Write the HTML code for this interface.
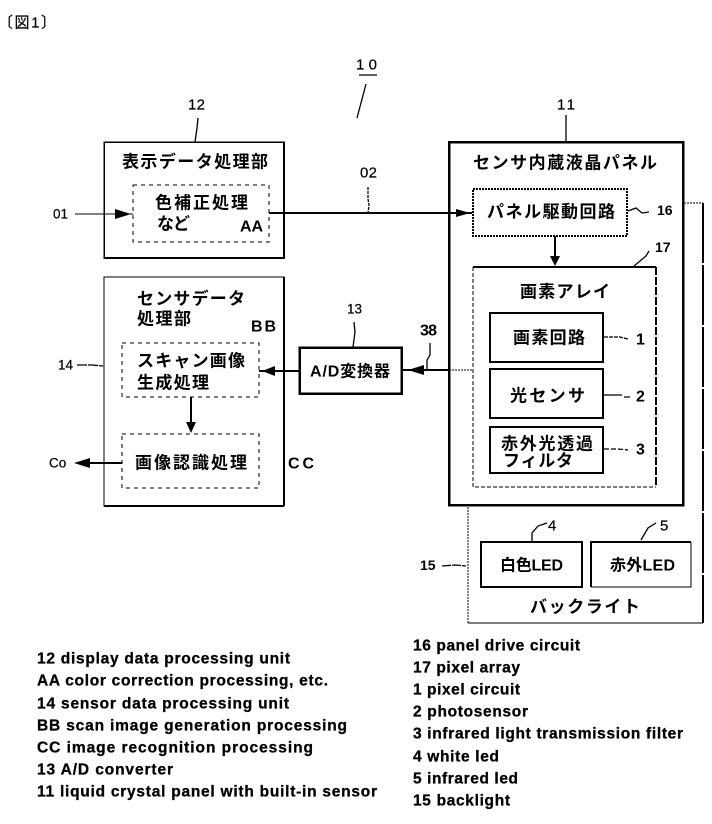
<!DOCTYPE html>
<html lang="ja"><head><meta charset="utf-8"><title>図1</title>
<style>
html,body{margin:0;padding:0;background:#fff}
svg{display:block}
text{font-family:"Liberation Sans","Noto Sans CJK JP",sans-serif;fill:#000;dominant-baseline:central}
.j{font-size:17px;font-weight:700}
.k{font-size:16px;font-weight:700}
.n{font-size:15px;stroke:#000;stroke-width:.2}
.s{font-size:13.5px;stroke:#000;stroke-width:.2}
.b{font-size:16px;font-weight:700}
.t{font-size:14px;font-weight:700}
.e{font-size:15.5px;font-weight:700;stroke:#000;stroke-width:.3}
</style></head><body>
<svg width="712" height="824" viewBox="0 0 712 824" xmlns="http://www.w3.org/2000/svg">
<g fill="none" stroke="#000" shape-rendering="crispEdges">
<!-- main boxes -->
<rect x="104" y="142" width="180" height="116" stroke-width="1.5"/>
<path d="M284 142V258M104 258H284" stroke-width="2"/>
<rect x="133" y="185" width="136" height="57" stroke-width="1.4" stroke-dasharray="4 4"/>
<rect x="104" y="277" width="180" height="229" stroke-width="1.2"/>
<path d="M284 277V506M104 506H284" stroke-width="2"/>
<rect x="122" y="343" width="137" height="54" stroke-width="1.3" stroke-dasharray="4 4"/>
<rect x="122" y="434" width="137" height="54" stroke-width="1.3" stroke-dasharray="4 4"/>
<rect x="299.500" y="347.500" width="102" height="46" stroke-width="2.500"/>
<rect x="449" y="142" width="234" height="363" stroke-width="2.500"/>
<rect x="473" y="189" width="154" height="47" stroke-width="1.600" stroke-dasharray="2 1"/>
<path d="M473 267H656" stroke-width="1.800"/>
<path d="M473 267V487H656" stroke-width="1" stroke-dasharray="4 2"/>
<path d="M656 267V487" stroke-width="1.800" stroke-dasharray="8 2"/>
<rect x="490" y="313" width="113" height="49" stroke-width="2"/>
<rect x="490" y="369" width="113" height="49" stroke-width="2"/>
<rect x="490" y="427" width="113" height="46" stroke-width="2"/>
<!-- backlight -->
<path d="M684 203H703" stroke-width="1" stroke-dasharray="2 1"/>
<path d="M703 203V623" stroke-width="2" stroke-dasharray="60 2"/>
<path d="M703 623H468" stroke-width="1"/>
<path d="M468 623V505" stroke-width="1" stroke-dasharray="2 1"/>
<rect x="481" y="542" width="101" height="45" stroke-width="2"/>
<path d="M591 587V542H691" stroke-width="2"/>
<path d="M591 587H691V542" stroke-width="1.300"/>
<!-- connectors -->
<path d="M269 213H472" stroke-width="2"/>
<path d="M75 214H133" stroke-width="1"/>
<path d="M555 236V260" stroke-width="2"/>
<path d="M191 397V425" stroke-width="2"/>
<path d="M77 463H122" stroke-width="2"/>
<path d="M259 371H299" stroke-width="2"/>
<path d="M401 370H449" stroke-width="2"/>
<path d="M449 370H473" stroke-width="1" stroke-dasharray="2 1"/>
</g>
<!-- arrowheads -->
<g fill="#000">
<path d="M115 209L131 214L115 219Z"/>
<path d="M456 209L470 213L456 217Z"/>
<path d="M550 256H560L555 266Z"/>
<path d="M186 422H196L191 433Z"/>
<path d="M74 463L90 458V468Z"/>
<path d="M262 371L275 366V376Z"/>
<path d="M408 370L424 365V375Z"/>
</g>
<!-- leaders -->
<g fill="none" stroke="#000" stroke-width="1.300">
<path d="M359 75H377M366 84L357 118"/>
<path d="M198 118L197 128L195 142"/>
<path d="M566 115V142"/>
<path d="M368 187V199L369 205L368 213" stroke-dasharray="3 1"/>
<path d="M354 322L355 332L353 347"/>
<path d="M430 343V355L427 360V370"/>
<path d="M628 211L636 208L642 213L649 212"/>
<path d="M634 266L646 256L649 251"/>
<path d="M604 337H620L628 339" stroke-dasharray="4 1"/>
<path d="M604 395H622M624 397H630"/>
<path d="M604 449H618L628 450" stroke-dasharray="5 2"/>
<path d="M532 541V533L538 526L547 523"/>
<path d="M641 540L648 528L656 523"/>
<path d="M442 566L455 565L466 566" stroke-dasharray="9 1"/>
<path d="M77 365H92L103 366" stroke-dasharray="10 1"/>
</g>
<!-- top label -->
<text x="-2" y="23" class="n" textLength="58" lengthAdjust="spacing">〔図1〕</text>
<text x="356" y="65" class="n" textLength="21" lengthAdjust="spacing">10</text>
<text x="188" y="105" class="n" textLength="17" lengthAdjust="spacing">12</text>
<text x="557" y="105" class="n" textLength="18" lengthAdjust="spacing">11</text>
<text x="360" y="173" class="n" textLength="17" lengthAdjust="spacing">02</text>
<text x="53" y="214" class="s">01</text>
<text x="347" y="309" class="s">13</text>
<text x="420" y="331" class="b" textLength="17" lengthAdjust="spacing">38</text>
<text x="657" y="210" class="t">16</text>
<text x="655" y="247" class="t">17</text>
<text x="636" y="340" class="b">1</text>
<text x="636" y="397" class="b">2</text>
<text x="636" y="450" class="b">3</text>
<text x="548" y="526" class="n">4</text>
<text x="660" y="526" class="n">5</text>
<text x="420" y="565" class="t">15</text>
<text x="58" y="365" class="s">14</text>
<text x="49" y="463" class="s">Co</text>
<!-- Japanese labels -->
<text x="122" y="162" class="j" textLength="146" lengthAdjust="spacing">表示データ処理部</text>
<text x="155" y="203" class="j" textLength="93" lengthAdjust="spacing">色補正処理</text>
<text x="157" y="224" class="j" textLength="33" lengthAdjust="spacing">など</text>
<text x="240" y="227" class="b" textLength="23" lengthAdjust="spacing">AA</text>
<text x="137" y="299" class="j" textLength="108" lengthAdjust="spacing">センサデータ</text>
<text x="137" y="319" class="j" textLength="54" lengthAdjust="spacing">処理部</text>
<text x="251" y="327" class="b" textLength="25" lengthAdjust="spacing">BB</text>
<text x="137" y="361" class="j" textLength="108" lengthAdjust="spacing">スキャン画像</text>
<text x="137" y="383" class="j" textLength="72" lengthAdjust="spacing">生成処理</text>
<text x="135" y="463" class="j" textLength="112" lengthAdjust="spacing">画像認識処理</text>
<text x="288" y="464" class="b" textLength="26" lengthAdjust="spacing">CC</text>
<text x="310" y="372" class="k" textLength="80" lengthAdjust="spacing">A/D変換器</text>
<text x="473" y="163" class="j" textLength="184" lengthAdjust="spacing">センサ内蔵液晶パネル</text>
<text x="487" y="212" class="j" textLength="128" lengthAdjust="spacing">パネル駆動回路</text>
<text x="520" y="292" class="j" textLength="90" lengthAdjust="spacing">画素アレイ</text>
<text x="513" y="338" class="j" textLength="72" lengthAdjust="spacing">画素回路</text>
<text x="510" y="396" class="j" textLength="75" lengthAdjust="spacing">光センサ</text>
<text x="501" y="444" class="j" textLength="92" lengthAdjust="spacing">赤外光透過</text>
<text x="503" y="461" class="j" textLength="70" lengthAdjust="spacing">フィルタ</text>
<text x="500" y="566" class="k" textLength="63" lengthAdjust="spacing">白色LED</text>
<text x="610" y="566" class="k" textLength="65" lengthAdjust="spacing">赤外LED</text>
<text x="530" y="607" class="j" textLength="110" lengthAdjust="spacing">バックライト</text>
<!-- English legend left -->
<text x="37" y="659" class="e" textLength="253" lengthAdjust="spacing">12 display data processing unit</text>
<text x="37" y="681" class="e" textLength="291" lengthAdjust="spacing">AA color correction processing, etc.</text>
<text x="37" y="704" class="e" textLength="252" lengthAdjust="spacing">14 sensor data processing unit</text>
<text x="37" y="726" class="e" textLength="310" lengthAdjust="spacing">BB scan image generation processing</text>
<text x="37" y="748" class="e" textLength="276" lengthAdjust="spacing">CC image recognition processing</text>
<text x="37" y="770" class="e" textLength="136" lengthAdjust="spacing">13 A/D converter</text>
<text x="37" y="792" class="e" textLength="340" lengthAdjust="spacing">11 liquid crystal panel with built-in sensor</text>
<!-- English legend right -->
<text x="413" y="646" class="e" textLength="167" lengthAdjust="spacing">16 panel drive circuit</text>
<text x="413" y="668" class="e" textLength="107" lengthAdjust="spacing">17 pixel array</text>
<text x="413" y="690" class="e" textLength="107" lengthAdjust="spacing">1 pixel circuit</text>
<text x="413" y="712" class="e" textLength="115" lengthAdjust="spacing">2 photosensor</text>
<text x="413" y="734" class="e" textLength="270" lengthAdjust="spacing">3 infrared light transmission filter</text>
<text x="413" y="757" class="e" textLength="86" lengthAdjust="spacing">4 white led</text>
<text x="413" y="779" class="e" textLength="105" lengthAdjust="spacing">5 infrared led</text>
<text x="413" y="801" class="e" textLength="97" lengthAdjust="spacing">15 backlight</text>
</svg>
</body></html>
